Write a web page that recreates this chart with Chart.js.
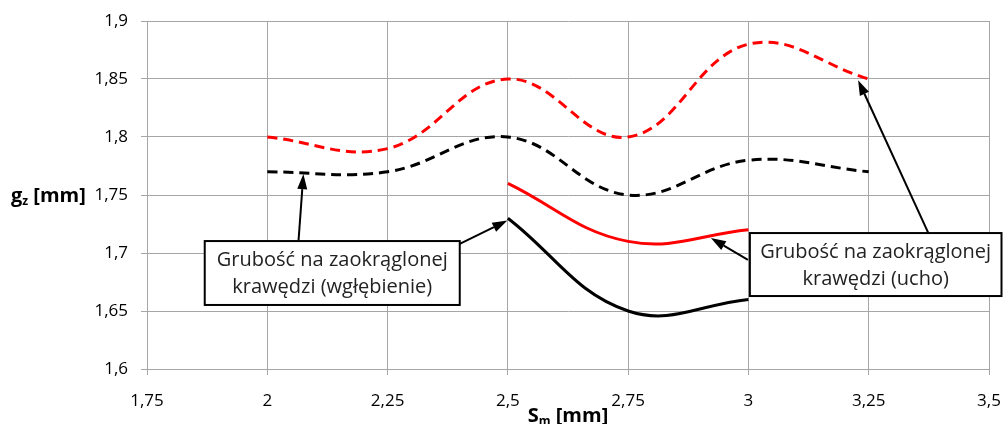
<!DOCTYPE html>
<html>
<head>
<meta charset="utf-8">
<script src="https://cdn.jsdelivr.net/npm/chart.js@4.4.1/dist/chart.umd.min.js"></script>
<style>
  html, body { margin: 0; padding: 0; background: #fff; }
  #wrap { width: 1003px; height: 424px; position: relative; }
</style>
</head>
<body>
<div id="wrap"><canvas id="c" width="1003" height="424"></canvas></div>
<script>
// ---- data ----
const xTicks = [1.75, 2, 2.25, 2.5, 2.75, 3, 3.25, 3.5];
const yTicks = [1.6, 1.65, 1.7, 1.75, 1.8, 1.85, 1.9];

const xLong = [2, 2.25, 2.5, 2.75, 3, 3.25];
const redDashed = [1.80, 1.79, 1.85, 1.80, 1.88, 1.85];
const blackDashed = [1.77, 1.77, 1.80, 1.75, 1.78, 1.77];

const xShort = [2.5, 2.75, 3];
const redSolid = [1.76, 1.71, 1.72];
const blackSolid = [1.73, 1.65, 1.66];

const labelLeft = ["Grubość na zaokrąglonej", "krawędzi (wgłębienie)"];
const labelRight = ["Grubość na zaokrąglonej", "krawędzi (ucho)"];
const xTitle = ["S", "m", " [mm]"];
const yTitle = ["g", "z", " [mm]"];

// annotation geometry in data units
const boxLeft = { x0: 1.87, y0: 1.7103, x1: 2.40, y1: 1.6552 };
const boxRight = { x0: 3.003, y0: 1.7172, x1: 3.53, y1: 1.6629 };
const arrows = [
  { from: [2.065, 1.7112], to: [2.075, 1.768] },
  { from: [2.400, 1.7078], to: [2.499, 1.728] },
  { from: [3.374, 1.7172], to: [3.228, 1.849] },
  { from: [2.999, 1.694], to: [2.922, 1.713] }
];

function pts(xs, ys) { return xs.map((x, i) => ({ x: x, y: ys[i] })); }
function fmt(v) { return String(Number(v.toFixed(2))).replace('.', ','); }

const FONT = "'Open Sans', sans-serif";

const annot = {
  id: 'annot',
  afterDatasetsDraw(chart) {
    const ctx = chart.ctx, xs = chart.scales.x, ys = chart.scales.y;
    ctx.save();
    ctx.strokeStyle = '#000'; ctx.fillStyle = '#000'; ctx.lineWidth = 2;
    arrows.forEach(a => {
      const x0 = xs.getPixelForValue(a.from[0]), y0 = ys.getPixelForValue(a.from[1]);
      const x1 = xs.getPixelForValue(a.to[0]), y1 = ys.getPixelForValue(a.to[1]);
      const ang = Math.atan2(y1 - y0, x1 - x0);
      const L = 15, W = 5;
      const bx = x1 - L * Math.cos(ang), by = y1 - L * Math.sin(ang);
      ctx.beginPath(); ctx.moveTo(x0, y0); ctx.lineTo(bx, by); ctx.stroke();
      ctx.beginPath();
      ctx.moveTo(x1, y1);
      ctx.lineTo(bx + W * Math.sin(ang), by - W * Math.cos(ang));
      ctx.lineTo(bx - W * Math.sin(ang), by + W * Math.cos(ang));
      ctx.closePath(); ctx.fill();
    });
    [[boxLeft, labelLeft], [boxRight, labelRight]].forEach(([b, lines]) => {
      const x0 = xs.getPixelForValue(b.x0), y0 = ys.getPixelForValue(b.y0);
      const x1 = Math.min(xs.getPixelForValue(b.x1), chart.width - 1.5), y1 = ys.getPixelForValue(b.y1);
      ctx.fillStyle = '#fff';
      ctx.fillRect(x0, y0, x1 - x0, y1 - y0);
      ctx.strokeStyle = '#000'; ctx.lineWidth = 2;
      ctx.strokeRect(x0, y0, x1 - x0, y1 - y0);
      ctx.fillStyle = '#222';
      ctx.font = "20px " + FONT;
      ctx.textAlign = 'center'; ctx.textBaseline = 'alphabetic';
      const cx = (x0 + x1) / 2;
      ctx.fillText(lines[0], cx, y0 + 25);
      ctx.fillText(lines[1], cx, y0 + 52);
    });
    ctx.restore();
  },
  afterDraw(chart) {
    const ctx = chart.ctx, ca = chart.chartArea;
    ctx.save();
    ctx.fillStyle = '#000';
    ctx.textBaseline = 'alphabetic'; ctx.textAlign = 'left';
    function drawSub(parts, x, y, center) {
      ctx.font = "bold 20px " + FONT;
      const w0 = ctx.measureText(parts[0]).width;
      ctx.font = "bold 12px " + FONT;
      const w1 = ctx.measureText(parts[1]).width;
      ctx.font = "bold 20px " + FONT;
      const w2 = ctx.measureText(parts[2]).width;
      let sx = center ? x - (w0 + w1 + w2) / 2 : x;
      ctx.font = "bold 20px " + FONT; ctx.fillText(parts[0], sx, y);
      ctx.font = "bold 12px " + FONT; ctx.fillText(parts[1], sx + w0, y + 3);
      ctx.font = "bold 20px " + FONT; ctx.fillText(parts[2], sx + w0 + w1, y);
    }
    drawSub(yTitle, 11, (ca.top + ca.bottom) / 2 + 7, false);
    drawSub(xTitle, (ca.left + ca.right) / 2, ca.bottom + 53, true);
    ctx.restore();
  }
};

const ds = (label, data, color, dashed) => ({
  label, data, borderColor: color, backgroundColor: color,
  borderWidth: 3, borderDash: dashed ? [10, 6] : [], pointRadius: 0,
  tension: 0.4, fill: false
});

new Chart(document.getElementById('c'), {
  type: 'line',
  data: {
    datasets: [
      ds('red dashed', pts(xLong, redDashed), '#ff0000', true),
      ds('black dashed', pts(xLong, blackDashed), '#000000', true),
      ds('red solid', pts(xShort, redSolid), '#ff0000', false),
      ds('black solid', pts(xShort, blackSolid), '#000000', false)
    ]
  },
  options: {
    responsive: false, animation: false,
    layout: { padding: { top: 21, right: 14, left: 0, bottom: 0 } },
    plugins: { legend: { display: false }, tooltip: { enabled: false } },
    scales: {
      x: {
        type: 'linear', min: xTicks[0], max: xTicks[xTicks.length - 1],
        afterBuildTicks: s => { s.ticks = xTicks.map(v => ({ value: v })); },
        afterFit: s => { s.height = 55; s.paddingRight = 0; s.paddingLeft = 0; },
        grid: { color: '#a6a6a6', lineWidth: 1, tickLength: 6, drawTicks: true },
        border: { color: '#a6a6a6', width: 1 },
        ticks: { callback: v => fmt(v), color: '#000', font: { family: FONT, size: 17 }, padding: 16, maxRotation: 0, autoSkip: false }
      },
      y: {
        min: yTicks[0], max: yTicks[yTicks.length - 1],
        afterBuildTicks: s => { s.ticks = yTicks.map(v => ({ value: v })); },
        afterFit: s => { s.width = 147; s.paddingTop = 0; s.paddingBottom = 0; },
        grid: { color: '#a6a6a6', lineWidth: 1, tickLength: 6 },
        border: { color: '#a6a6a6', width: 1 },
        ticks: { callback: v => fmt(v), color: '#000', font: { family: FONT, size: 17 }, padding: 13, autoSkip: false }
      }
    }
  },
  plugins: [annot]
});
</script>
</body>
</html>
